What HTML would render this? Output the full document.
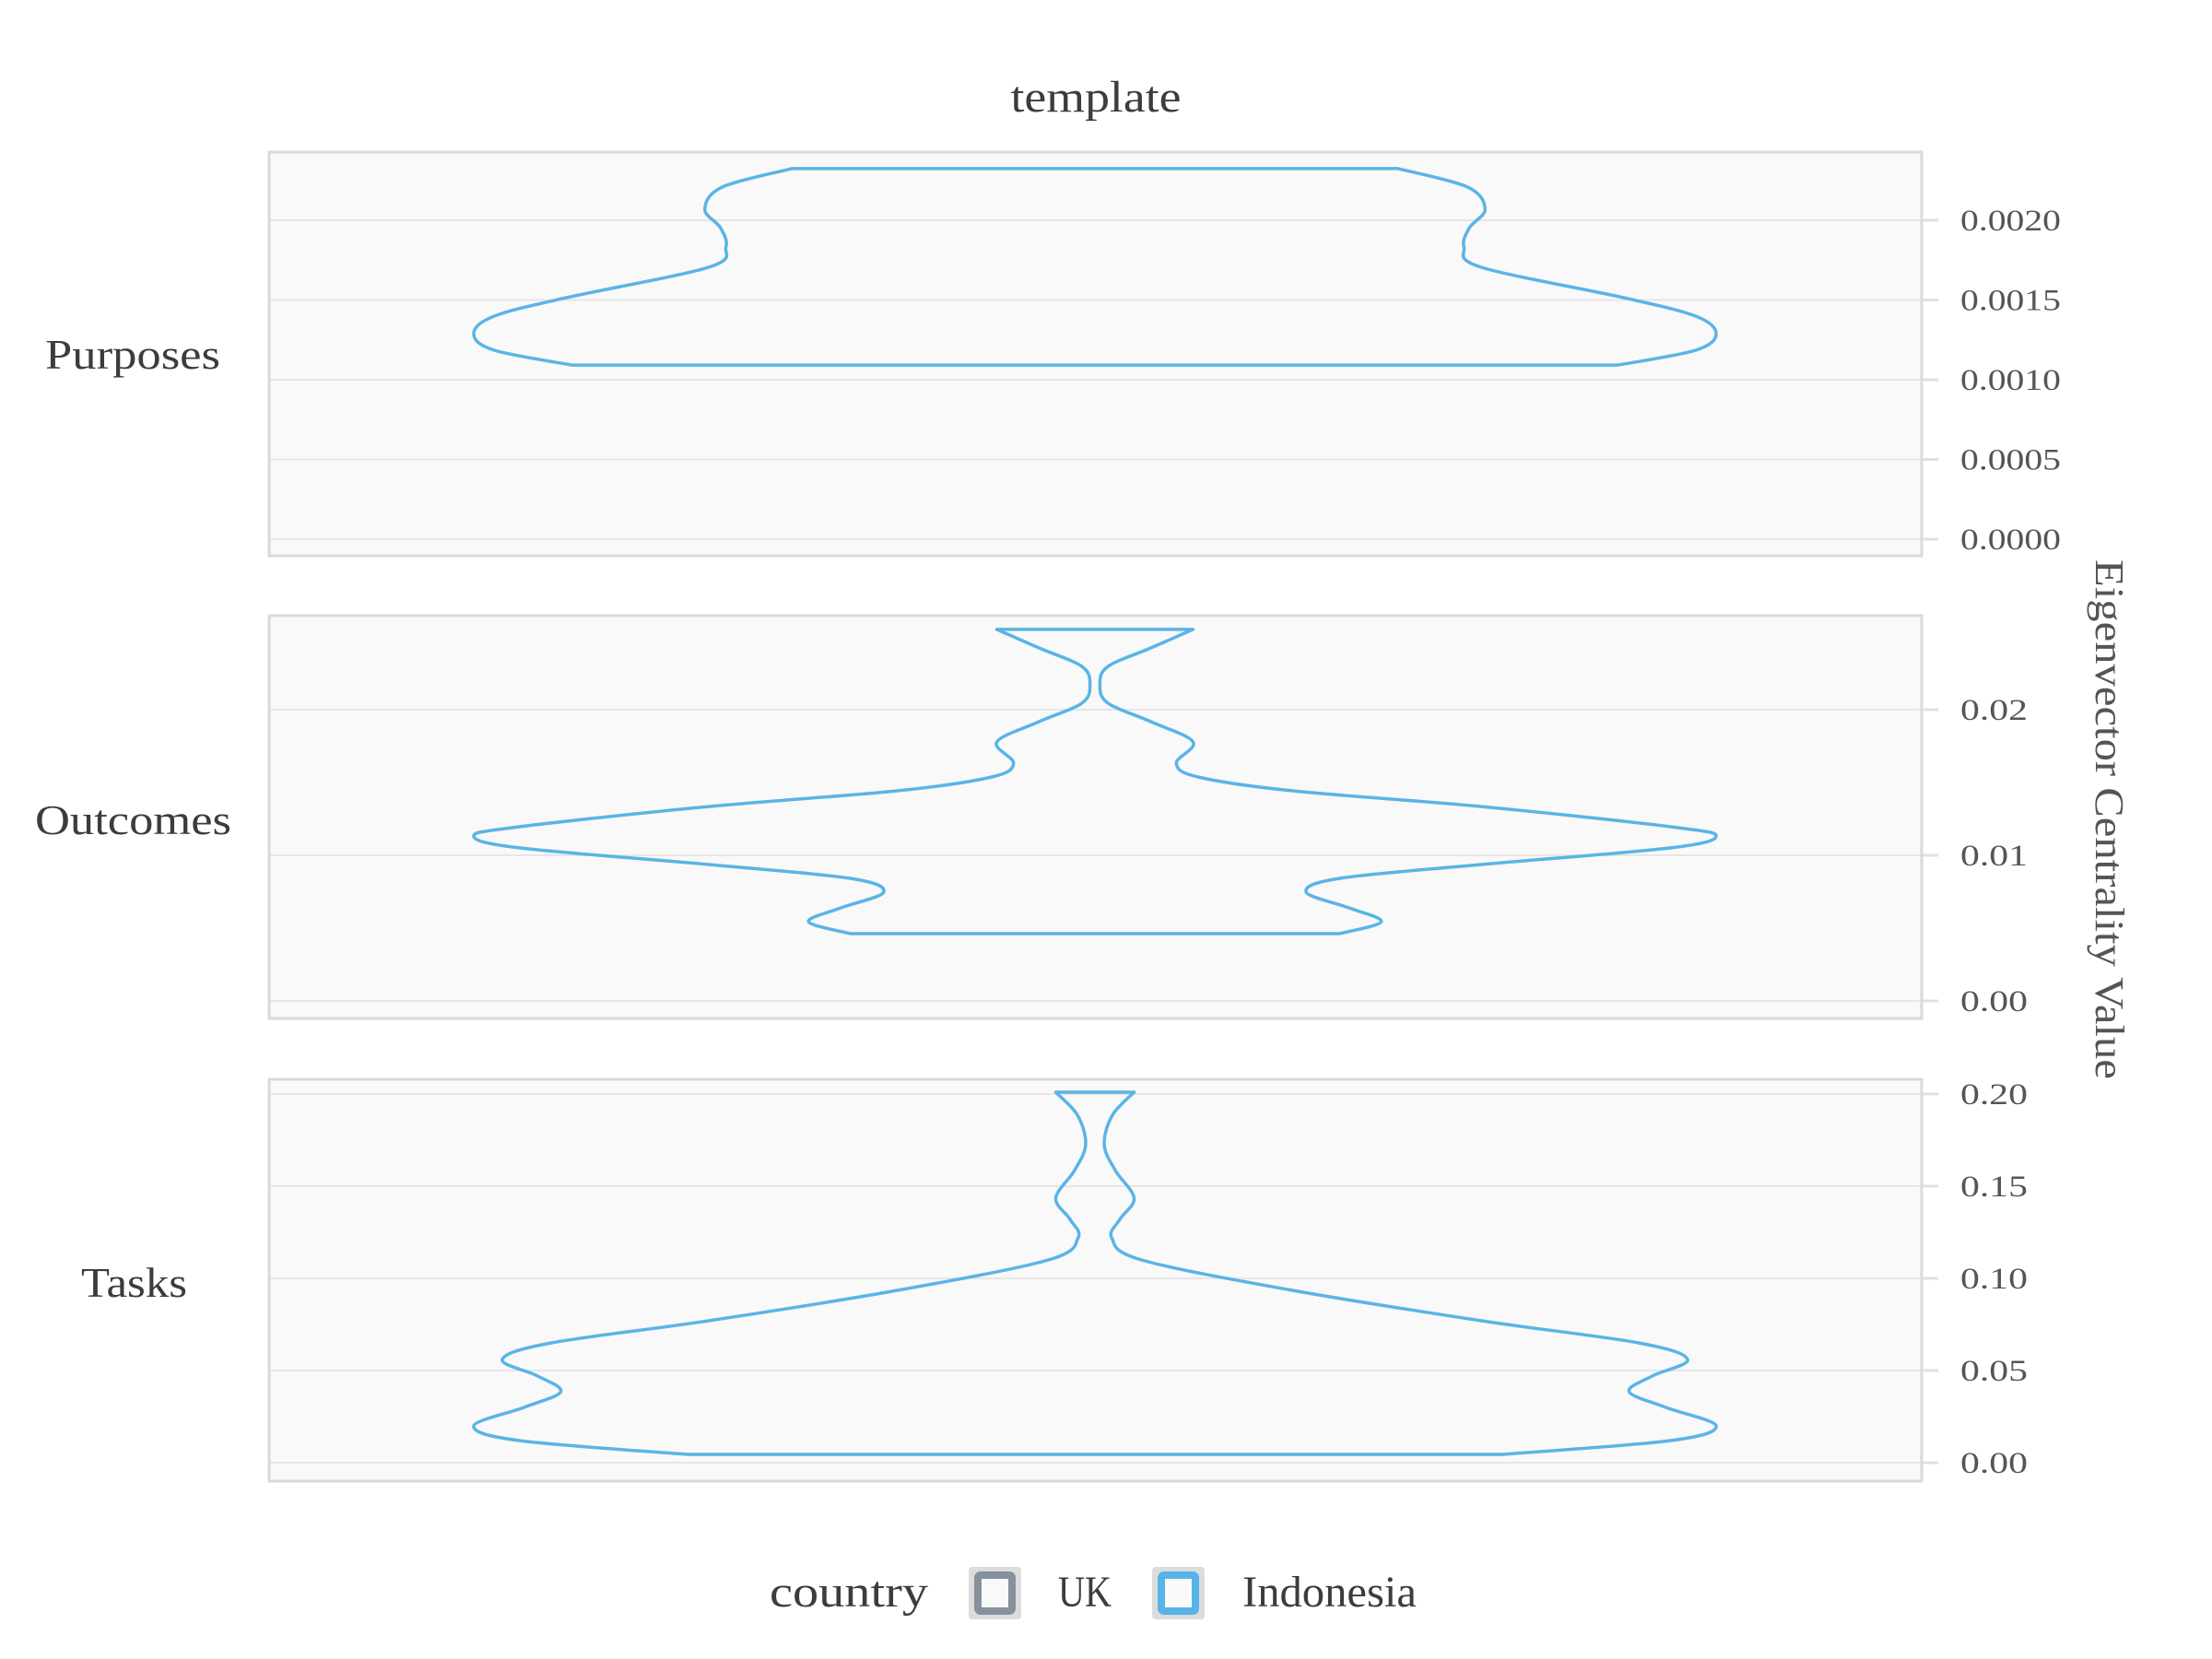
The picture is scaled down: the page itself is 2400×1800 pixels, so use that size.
<!DOCTYPE html>
<html><head><meta charset="utf-8"><style>
html,body{margin:0;padding:0;background:#fff;}
svg{display:block;font-family:"Liberation Serif",serif;}
</style></head><body>
<svg id="chart" width="2400" height="1800" viewBox="0 0 2400 1800">
<text x="1189" y="121" font-size="48" fill="#3c3c3c" text-anchor="middle" textLength="185" lengthAdjust="spacingAndGlyphs">template</text>
<g id="panels"></g>
<text transform="translate(2274,889) rotate(90)" font-size="44" fill="#555" text-anchor="middle" textLength="564" lengthAdjust="spacingAndGlyphs">Eigenvector Centrality Value</text>
<g>
<text x="835" y="1743" font-size="48" fill="#3c3c3c" textLength="172" lengthAdjust="spacingAndGlyphs">country</text>
<g>
<rect x="1051" y="1700" width="57" height="57" rx="4" fill="#dcdcdc"/>
<rect x="1061" y="1709" width="37" height="39" rx="3" fill="#f9f9f9" stroke="#85919d" stroke-width="8"/>
<text x="1148" y="1743" font-size="48" fill="#3c3c3c" textLength="58" lengthAdjust="spacingAndGlyphs">UK</text>
</g>
<g>
<rect x="1250" y="1700" width="57" height="57" rx="4" fill="#dcdcdc"/>
<rect x="1260" y="1709" width="37" height="39" rx="3" fill="#f9f9f9" stroke="#56b4e9" stroke-width="8"/>
<text x="1348" y="1743" font-size="48" fill="#3c3c3c" textLength="189" lengthAdjust="spacingAndGlyphs">Indonesia</text>
</g>
</g>
</svg>
<script>
// ---- data ----
const facetNames = ["Purposes", "Outcomes", "Tasks"];
const purposesValues = [0.002324,0.002208,0.002069,0.001954,0.001832,0.001705,0.001514,0.001399,0.001289,0.001185,0.001092];
const purposesDensity = [0.488,0.60,0.628,0.603,0.594,0.622,0.852,0.967,1.0,0.967,0.842];
const outcomesValues = [0.02551,0.02424,0.02297,0.02171,0.02044,0.01918,0.01778,0.01633,0.01538,0.01443,0.01335,0.01196,0.01133,0.01051,0.00937,0.00842,0.00747,0.00639,0.00544,0.00462];
const outcomesDensity = [0.158,0.09,0.021,0.008,0.021,0.09,0.158,0.131,0.166,0.318,0.622,0.927,1.0,0.927,0.622,0.394,0.34,0.409,0.461,0.394];
const tasksValues = [0.201,0.1885,0.1725,0.1585,0.1435,0.132,0.122,0.11,0.0935,0.077,0.065,0.056,0.047,0.0385,0.03,0.02,0.012,0.0045];
const tasksDensity = [0.063,0.028,0.015,0.033,0.063,0.04,0.027,0.075,0.318,0.622,0.875,0.954,0.897,0.86,0.919,1.0,0.927,0.657];
const purposesTicks = [0,0.0005,0.001,0.0015,0.002];
const purposesTickLabels = ["0.0000","0.0005","0.0010","0.0015","0.0020"];
const outcomesTicks = [0,0.01,0.02];
const outcomesTickLabels = ["0.00","0.01","0.02"];
const tasksTicks = [0,0.05,0.1,0.15,0.2];
const tasksTickLabels = ["0.00","0.05","0.10","0.15","0.20"];

// ---- layout ----
const NS = "http://www.w3.org/2000/svg";
const X0 = 292, X1 = 2085, CX = 1188, MAXHW = 674;
const panels = [
  {name: facetNames[0], top:165, bottom:603, y0:585, k:173000, vals:purposesValues, dens:purposesDensity, ticks:purposesTicks, labels:purposesTickLabels, lx:49, lw:190, ly:400},
  {name: facetNames[1], top:668, bottom:1105, y0:1086, k:15800, vals:outcomesValues, dens:outcomesDensity, ticks:outcomesTicks, labels:outcomesTickLabels, lx:38, lw:213, ly:905},
  {name: facetNames[2], top:1171, bottom:1607, y0:1587, k:2000, vals:tasksValues, dens:tasksDensity, ticks:tasksTicks, labels:tasksTickLabels, lx:88, lw:115, ly:1407}
];
function mk(tag, attrs, parent){const e=document.createElementNS(NS,tag);for(const a in attrs)e.setAttribute(a,attrs[a]);parent.appendChild(e);return e;}
function catmull(pts){
  let d="";
  for(let i=0;i<pts.length-1;i++){
    const p0=pts[Math.max(i-1,0)],p1=pts[i],p2=pts[i+1],p3=pts[Math.min(i+2,pts.length-1)];
    const c1=[p1[0]+(p2[0]-p0[0])/6,p1[1]+(p2[1]-p0[1])/6];
    const c2=[p2[0]-(p3[0]-p1[0])/6,p2[1]-(p3[1]-p1[1])/6];
    d+=` C${c1[0].toFixed(1)},${c1[1].toFixed(1)} ${c2[0].toFixed(1)},${c2[1].toFixed(1)} ${p2[0].toFixed(1)},${p2[1].toFixed(1)}`;
  }
  return d;
}
const g = document.getElementById("panels");
panels.forEach((p, pi) => {
  const yScale = v => p.y0 - v * p.k;
  const wScale = d => d * MAXHW;
  const pg = mk("g", {}, g);
  
  
  const bg = mk("rect", {x:X0, y:p.top, width:X1-X0, height:p.bottom-p.top, fill:"#f9f9f9"}, pg);
  
  
  p.ticks.forEach((t, ti) => {
    const y = yScale(t);
    const gl = mk("line", {x1:X0, x2:X1, y1:y, y2:y, stroke:"#e6e6e6", "stroke-width":2}, pg);
    
    
    const tk = mk("line", {x1:X1, x2:X1+18, y1:y, y2:y, stroke:"#e0e0e0", "stroke-width":3}, pg);
    
    
    const lab = p.labels[ti];
    const tl = mk("text", {x:2127, y:y+11, "font-size":33, fill:"#555", textLength:(lab.length*18.2).toFixed(0), lengthAdjust:"spacingAndGlyphs"}, pg);
    tl.textContent = lab;
    
    
  });
  const border = mk("rect", {x:X0, y:p.top, width:X1-X0, height:p.bottom-p.top, fill:"none", stroke:"#d9d9d9", "stroke-width":3}, pg);
  
  
  const right = p.vals.map((v,i)=>[CX + wScale(p.dens[i]), yScale(v)]);
  const left = p.vals.map((v,i)=>[CX - wScale(p.dens[i]), yScale(v)]).reverse();
  let d = `M${right[0][0].toFixed(1)},${right[0][1].toFixed(1)}` + catmull(right);
  d += ` L${left[0][0].toFixed(1)},${left[0][1].toFixed(1)}` + catmull(left) + " Z";
  const vp = mk("path", {d:d, fill:"none", stroke:"#5ab4e6", "stroke-width":3.5, "stroke-linejoin":"round"}, pg);
  
  
  const sl = mk("text", {x:p.lx, y:p.ly, "font-size":46, fill:"#3c3c3c", textLength:p.lw, lengthAdjust:"spacingAndGlyphs"}, pg);
  sl.textContent = p.name;
  
  
});
</script>
</body></html>
